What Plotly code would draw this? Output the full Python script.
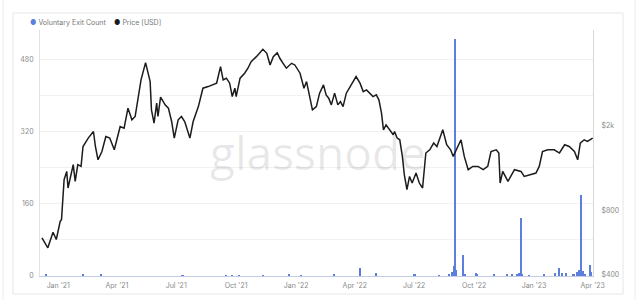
import math
import plotly.graph_objects as go

# ---------------- data ----------------
price_dates = [
    "2020-12-07", "2020-12-16", "2020-12-24", "2020-12-29", "2021-01-04", "2021-01-06", "2021-01-10",
    "2021-01-14", "2021-01-16", "2021-01-21", "2021-01-24", "2021-01-27", "2021-01-31", "2021-02-05",
    "2021-02-08", "2021-02-16", "2021-02-24", "2021-02-27", "2021-03-03", "2021-03-09", "2021-03-15",
    "2021-03-21", "2021-03-28", "2021-04-06", "2021-04-12", "2021-04-18", "2021-04-24", "2021-04-29",
    "2021-05-03", "2021-05-08", "2021-05-15", "2021-05-22", "2021-05-24", "2021-05-28", "2021-06-01",
    "2021-06-03", "2021-06-07", "2021-06-14", "2021-06-19", "2021-06-24", "2021-06-28", "2021-07-04",
    "2021-07-09", "2021-07-14", "2021-07-22", "2021-07-27", "2021-08-04", "2021-08-11", "2021-08-19",
    "2021-08-27", "2021-09-01", "2021-09-07", "2021-09-11", "2021-09-16", "2021-09-21", "2021-09-25",
    "2021-09-29", "2021-10-01", "2021-10-07", "2021-10-14", "2021-10-19", "2021-10-24", "2021-11-01",
    "2021-11-11", "2021-11-17", "2021-11-22", "2021-11-27", "2021-12-03", "2021-12-07", "2021-12-12",
    "2021-12-17", "2021-12-25", "2021-12-30", "2022-01-07", "2022-01-13", "2022-01-17", "2022-01-22",
    "2022-01-26", "2022-02-01", "2022-02-06", "2022-02-12", "2022-02-16", "2022-02-20", "2022-02-24",
    "2022-03-01", "2022-03-06", "2022-03-10", "2022-03-14", "2022-03-19", "2022-03-27", "2022-04-03",
    "2022-04-09", "2022-04-14", "2022-04-19", "2022-04-24", "2022-04-29", "2022-05-04", "2022-05-08",
    "2022-05-12", "2022-05-15", "2022-05-19", "2022-05-24", "2022-05-30", "2022-06-01", "2022-06-05",
    "2022-06-09", "2022-06-13", "2022-06-16", "2022-06-20", "2022-06-24", "2022-06-28", "2022-07-04",
    "2022-07-09", "2022-07-14", "2022-07-19", "2022-07-25", "2022-07-31", "2022-08-05", "2022-08-14",
    "2022-08-20", "2022-08-26", "2022-08-30", "2022-09-04", "2022-09-11", "2022-09-16", "2022-09-22",
    "2022-09-29", "2022-10-07", "2022-10-15", "2022-10-22", "2022-10-27", "2022-11-04", "2022-11-08",
    "2022-11-10", "2022-11-14", "2022-11-22", "2022-12-02", "2022-12-12", "2022-12-17", "2022-12-28",
    "2023-01-04", "2023-01-09", "2023-01-14", "2023-01-22", "2023-02-01", "2023-02-09", "2023-02-17",
    "2023-02-24", "2023-03-04", "2023-03-09", "2023-03-13", "2023-03-19", "2023-03-24", "2023-04-01",
]
price_usd = [
    595, 534, 632, 584, 711, 724, 1116,
    1220, 1020, 1178, 1312, 1095, 1312, 1288,
    1598, 1750, 1879, 1598, 1384, 1514, 1780,
    1750, 1542, 1984, 1950, 2420, 2132, 2210,
    2598, 3284, 3960, 3224, 2375, 2058, 2553,
    2210, 2725, 2507, 2420, 2094, 1750, 2132,
    2210, 2094, 1750, 2094, 2461, 3002, 3055,
    3112, 3169, 3792, 3284, 3345, 3169, 2742,
    3002, 2742, 3345, 3531, 3727, 4001, 4223,
    4576, 4380, 3861, 4223, 4409, 4150, 3931,
    3727, 3931, 3861, 3531, 3002, 3224, 2695,
    2375, 2461, 2845, 3112, 2793, 2695, 2507,
    2845, 2507, 2598, 2461, 2845, 3112, 3404,
    3169, 2894, 2948, 2845, 2742, 2793, 2646,
    2293, 1914, 2020, 1914, 1814, 1879, 1750,
    1718, 1435, 1178, 1001, 1156, 1076, 1199,
    1076, 1020, 1489, 1542, 1658, 1598, 1914,
    1628, 1542, 1435, 1542, 1718, 1435, 1243,
    1288, 1288, 1243, 1288, 1514, 1542, 1489,
    1076, 1220, 1095, 1243, 1220, 1156, 1178,
    1199, 1288, 1514, 1542, 1542, 1489, 1628,
    1598, 1514, 1384, 1658, 1718, 1687, 1750,
]

exit_dates = [
    "2020-12-14", "2021-02-08", "2021-03-08", "2021-07-11", "2021-09-16", "2021-09-25", "2021-10-06",
    "2021-11-11", "2021-12-22", "2022-01-09", "2022-03-01", "2022-04-09", "2022-05-04", "2022-07-02",
    "2022-08-09", "2022-08-24", "2022-08-29", "2022-08-31", "2022-09-02", "2022-09-04", "2022-09-15",
    "2022-09-18", "2022-10-04", "2022-10-06", "2022-11-01", "2022-11-21", "2022-11-29", "2022-12-07",
    "2022-12-10", "2022-12-12", "2022-12-14", "2022-12-25", "2023-01-17", "2023-02-03", "2023-02-09",
    "2023-02-14", "2023-02-19", "2023-03-03", "2023-03-09", "2023-03-12", "2023-03-15", "2023-03-17",
    "2023-03-20", "2023-03-28", "2023-03-30",
]
exit_counts = [
    3, 4, 3, 2, 2, 2, 2,
    2, 3, 2, 3, 17, 6, 3,
    2, 3, 8, 22, 525, 14, 47,
    5, 7, 3, 4, 4, 5, 3,
    6, 129, 5, 2, 3, 7, 18,
    6, 6, 3, 8, 14, 180, 10,
    4, 25, 8,
]

x_tick_vals = ["2021-01-01", "2021-04-01", "2021-07-01", "2021-10-01", "2022-01-01",
               "2022-04-01", "2022-07-01", "2022-10-01", "2023-01-01", "2023-04-01"]
x_tick_text = ["Jan '21", "Apr '21", "Jul '21", "Oct '21", "Jan '22",
               "Apr '22", "Jul '22", "Oct '22", "Jan '23", "Apr '23"]

left_tick_vals = [0, 80, 160, 240, 320, 400, 480]
left_tick_text = ["0", "", "160", "", "320", "", "480"]

right_tick_vals = [400, 800, 2000]
right_tick_text = ["$400", "$800", "$2k"]

# ---------------- layout geometry (pixels) ----------------
W, H = 640, 300
ML, MR, MT, MB = 40, 47, 30, 24
PW, PH = W - ML - MR, H - MT - MB


def px_x(px):
    return (px - ML) / PW


def px_y(py):
    return (H - MB - py) / PH


BAR_BLUE = "#5b7fdb"
LINE_BLACK = "#1c1c1c"
TXT = "#8a8a8a"
FONT = "Inter"

fig = go.Figure()
fig.add_trace(go.Bar(
    x=exit_dates, y=exit_counts, yaxis="y",
    marker=dict(color=BAR_BLUE, line=dict(width=0)),
    width=2.4 * 86400000, showlegend=False, name="Voluntary Exit Count",
))
fig.add_trace(go.Scatter(
    x=price_dates, y=price_usd, yaxis="y2", mode="lines",
    line=dict(color=LINE_BLACK, width=1.5), showlegend=False, name="Price [USD]",
))

fig.update_layout(
    width=W, height=H,
    margin=dict(l=ML, r=MR, t=MT, b=MB, pad=0, autoexpand=False),
    paper_bgcolor="white", plot_bgcolor="white",
    font=dict(family=FONT, size=7, color=TXT),
    bargap=0,
    xaxis=dict(
        type="date", range=["2020-12-04", "2023-04-01 12:00"],
        tickvals=x_tick_vals, ticktext=x_tick_text,
        showgrid=False, zeroline=False, showline=True, linecolor="#c3cbe6", linewidth=1,
        ticks="", tickfont=dict(size=7, color=TXT), ticklabelstandoff=3,
    ),
    yaxis=dict(
        range=[0, 546], tickvals=left_tick_vals, ticktext=left_tick_text,
        showgrid=True, gridcolor="#f1f1f1", gridwidth=1, zeroline=False,
        showline=True, linecolor="#e3e3e3", ticks="", tickfont=dict(size=7, color=TXT),
        ticklabelstandoff=4,
    ),
    yaxis2=dict(
        type="log", overlaying="y", side="right",
        range=[math.log10(393.6), math.log10(5635)],
        tickvals=right_tick_vals, ticktext=right_tick_text,
        showgrid=False, zeroline=False, showline=True, linecolor="#d8d8d8",
        ticks="", tickfont=dict(size=7, color=TXT), ticklabelstandoff=6,
    ),
    shapes=[
        dict(type="rect", xref="paper", yref="paper",
             x0=px_x(3), x1=px_x(635), y0=px_y(302), y1=px_y(-4),
             line=dict(color="#ececec", width=1), fillcolor="rgba(0,0,0,0)", layer="below"),
        dict(type="rect", xref="paper", yref="paper",
             x0=px_x(13), x1=px_x(623), y0=px_y(294), y1=px_y(13),
             line=dict(color="#e6e6e6", width=1), fillcolor="rgba(0,0,0,0)", layer="below"),
    ],
    annotations=[
        dict(text="glassnode", xref="paper", yref="paper", x=px_x(318), y=px_y(152),
             xanchor="center", yanchor="middle", showarrow=False,
             font=dict(family="Open Sans", size=46, color="rgba(0,0,0,0.09)")),
        dict(text=f"<span style='color:{BAR_BLUE}'>●</span> Voluntary Exit Count",
             xref="paper", yref="paper", x=px_x(28), y=px_y(22),
             xanchor="left", yanchor="middle", showarrow=False,
             font=dict(family=FONT, size=7, color="#777777")),
        dict(text=f"<span style='color:{LINE_BLACK}'>●</span> Price [USD]",
             xref="paper", yref="paper", x=px_x(112), y=px_y(22),
             xanchor="left", yanchor="middle", showarrow=False,
             font=dict(family=FONT, size=7, color="#777777")),
    ],
)

fig.write_html("out.html")
